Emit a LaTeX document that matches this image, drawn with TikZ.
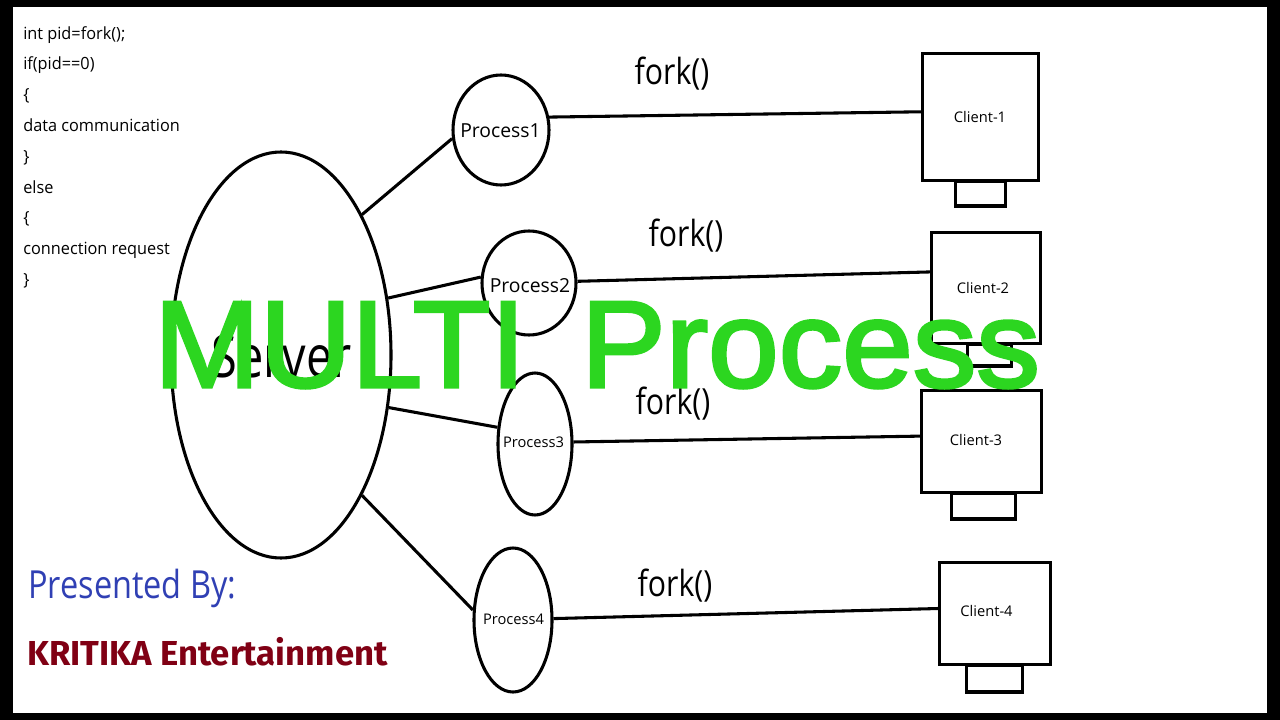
\documentclass[tikz,border=0pt]{standalone}
\usepackage{xcolor}
\usepackage{fontspec}
\setmainfont{Open Sans}
\newfontfamily\narrowfont[FakeStretch=0.84]{Open Sans}
\newfontfamily\serverfont[FakeStretch=0.8]{Open Sans}
\newfontfamily\codefont[FakeStretch=0.97]{Open Sans}
\newfontfamily\titlefont[FakeBold=2.5,FakeStretch=1.03]{Liberation Sans}
\newfontfamily\brandfont{Fira Sans}
\usetikzlibrary{shapes.geometric,positioning}
\definecolor{titlegreen}{RGB}{44,214,32}
\definecolor{byblue}{RGB}{48,64,180}
\definecolor{brandred}{RGB}{128,0,20}

\begin{document}
\begin{tikzpicture}[
  x=0.75pt, y=-0.75pt,
  proc/.style={ellipse, draw=black, line width=2.3pt, fill=white, inner sep=0pt},
  proclabel/.style={inner sep=0pt, font=\fontsize{14.5pt}{16pt}\selectfont},
  client/.style={rectangle, draw=black, line width=2.3pt, fill=white, inner sep=0pt},
  clientlabel/.style={inner sep=0pt, font=\fontsize{11pt}{13pt}\selectfont},
  stand/.style={rectangle, draw=black, line width=2.3pt, fill=white, inner sep=0pt},
  forklabel/.style={inner sep=0pt, font=\narrowfont\fontsize{27pt}{30pt}\selectfont},
  arr/.style={line width=2.3pt, black}
]
\useasboundingbox (0,0) rectangle (1280,720);
\fill[black] (0,0) rectangle (1280,720);
\fill[white] (13,7) rectangle (1267,713);

\node[anchor=north west, inner sep=0pt, align=left,
      font=\codefont\fontsize{12.6pt}{23.1pt}\selectfont] (code) at (23,26)
  {int pid=fork();\\if(pid==0)\\\{\\data communication\\\}\\else\\\{\\connection request\\\}};

\node[ellipse, draw=black, line width=2.3pt, inner sep=0pt,
      minimum width=220pt*0.75, minimum height=406pt*0.75] (server) at (281,355) {};
\node[anchor=base, inner sep=0pt, font=\serverfont\fontsize{44pt}{48pt}\selectfont] (servertext) at (281.5,377) {Server};

\node[proc, minimum width=96pt*0.75, minimum height=110pt*0.75] (p1) at (501,130) {};
\node[proc, minimum width=94pt*0.75, minimum height=104pt*0.75] (p2) at (529,283) {};
\node[proc, minimum width=74pt*0.75, minimum height=142pt*0.75] (p3) at (535,444) {};
\node[proc, minimum width=78pt*0.75, minimum height=144pt*0.75] (p4) at (513,620) {};
\node[proclabel] (t1) at (500.5,131) {Process1};
\node[proclabel] (t2) at (530,286) {Process2};
\node[proclabel, font=\fontsize{11pt}{13pt}\selectfont] (t3) at (533.5,442) {Process3};
\node[proclabel, font=\fontsize{11pt}{13pt}\selectfont] (t4) at (513.5,619) {Process4};

\node[client, minimum width=116pt*0.75, minimum height=127pt*0.75] (c1) at (980.5,117) {};
\node[client, minimum width=109pt*0.75, minimum height=111pt*0.75] (c2) at (986,288) {};
\node[client, minimum width=120pt*0.75, minimum height=102pt*0.75] (c3) at (981.5,441.5) {};
\node[client, minimum width=111pt*0.75, minimum height=102pt*0.75] (c4) at (995,613.5) {};
\node[clientlabel] (l1) at (980,117) {Client-1};
\node[clientlabel] (l2) at (983,288) {Client-2};
\node[clientlabel] (l3) at (976,440) {Client-3};
\node[clientlabel] (l4) at (986.5,611) {Client-4};

\node[stand, minimum width=50pt*0.75, minimum height=25pt*0.75] (s1) at (980.5,193.5) {};
\node[stand, minimum width=44pt*0.75, minimum height=22pt*0.75] (s2) at (989.5,355) {};
\node[stand, minimum width=64pt*0.75, minimum height=26pt*0.75] (s3) at (983.5,506) {};
\node[stand, minimum width=56pt*0.75, minimum height=27pt*0.75] (s4) at (994.5,678.5) {};

\node[forklabel] (f1) at (672,74) {fork()};
\node[forklabel] (f2) at (686,236) {fork()};
\node[forklabel] (f3) at (673,404) {fork()};
\node[forklabel] (f4) at (675,586) {fork()};

\draw[arr] (server.60) -- (p1.190);
\draw[arr] (server.28) -- (p2.173);
\draw[arr] (server.-26) -- (p3.156);
\draw[arr] (server.-60) -- (p4.166);
\draw[arr] (p1.15) -- (c1.175);
\draw[arr] (p2.2) -- (c2.164);
\draw[arr] (p3.3) -- (c3.175);
\draw[arr] (p4.2) -- (c4.175);

\node[anchor=base west, inner sep=0pt, text=byblue, font=\narrowfont\fontsize{29pt}{32pt}\selectfont] (by) at (28,598) {Presented By:};
\node[anchor=base west, inner sep=0pt, text=brandred, font=\brandfont\bfseries\fontsize{26pt}{30pt}\selectfont] (brand) at (27,665) {KRITIKA Entertainment};
\node[anchor=base, inner sep=0pt, text=titlegreen, font=\titlefont\fontsize{92.5pt}{96pt}\selectfont] (title) at (597,387) {MULTI\hspace{15pt} Process};
\end{tikzpicture}
\end{document}
